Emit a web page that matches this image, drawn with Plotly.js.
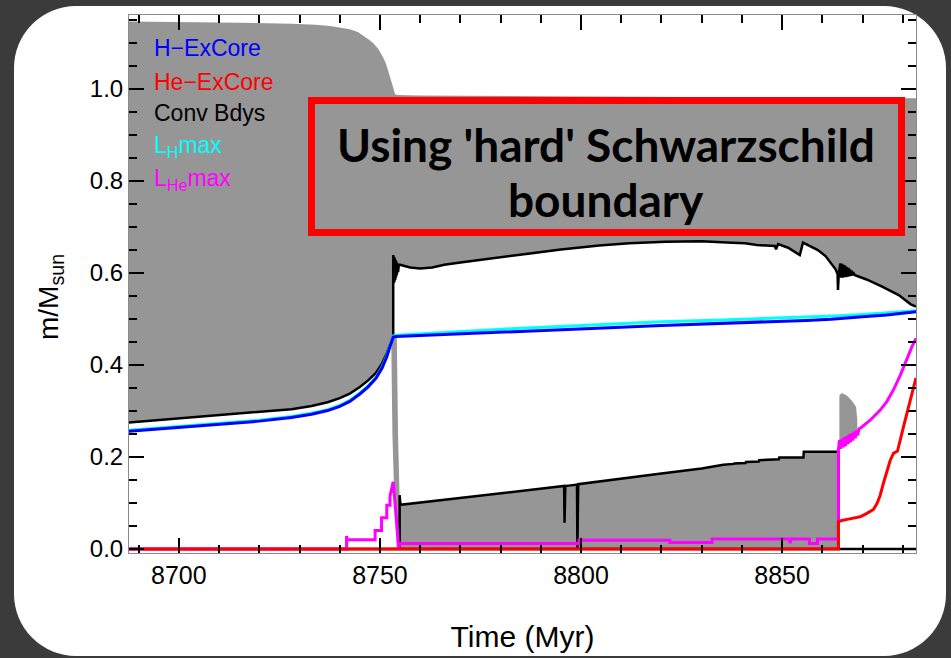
<!DOCTYPE html>
<html>
<head>
<meta charset="utf-8">
<script src="https://cdn.plot.ly/plotly-3.0.1.min.js"></script>
<style>
  html, body { margin: 0; padding: 0; width: 951px; height: 658px; overflow: hidden; background: #3b3b3b; }
  #card { position: absolute; left: 14px; top: 6px; width: 932px; height: 650px; background: #ffffff; border-radius: 62px; }
  #chart { position: absolute; left: 0; top: 0; width: 951px; height: 658px; }
</style>
</head>
<body>
<div id="card"></div>
<div id="chart"></div>
<script>
// Kippenhahn-style diagram: mass coordinate (m/Msun) versus age (Myr)

// Stellar surface (top of the grey envelope convection zone)
const surfaceT = [8687.6, 8700, 8715, 8728, 8734, 8737.6, 8740, 8742.5, 8744.5, 8745.8, 8747.2, 8748.3, 8749.6, 8750.7, 8751.5, 8752.0, 8752.6, 8753.0, 8753.4, 8753.7, 8754.2, 8760, 8800, 8850, 8883.3];
const surfaceM = [1.147, 1.146, 1.144, 1.142, 1.140, 1.137, 1.134, 1.130, 1.124, 1.117, 1.108, 1.100, 1.087, 1.070, 1.055, 1.041, 1.025, 1.013, 1.000, 0.990, 0.987, 0.986, 0.984, 0.982, 0.980];

// Inner boundary of the envelope convection zone
const envBaseT = [8687.6, 8700, 8710, 8720, 8728, 8733, 8737, 8740, 8742.5, 8745, 8747, 8749, 8750.5, 8751.7, 8752.5, 8753.0, 8753.3,
  8753.3, 8753.4, 8753.5, 8753.6, 8753.7, 8753.8, 8753.9, 8754.0, 8754.1, 8754.2, 8754.35, 8754.5, 8754.7, 8755.0,
  8757.5, 8760, 8763, 8766, 8770, 8776, 8782, 8788, 8795, 8804.5, 8812, 8821, 8830, 8837.5,
  8840.8, 8843.7, 8848.2, 8848.5, 8849.0, 8851.5, 8854.4, 8855.2, 8856.5, 8858.9, 8860.8, 8862.2, 8863.3, 8863.8, 8863.9, 8864.1,
  8864.3, 8864.5, 8864.7, 8864.9, 8865.1, 8865.3, 8865.5, 8865.7, 8865.9, 8866.1, 8866.3, 8866.5, 8866.7, 8866.9, 8867.1, 8867.3, 8867.5, 8867.7, 8868.0,
  8871, 8875, 8879, 8882, 8883.3];
const envBaseM = [0.275, 0.284, 0.290, 0.297, 0.304, 0.311, 0.319, 0.328, 0.338, 0.352, 0.366, 0.383, 0.403, 0.425, 0.445, 0.458, 0.463,
  0.639, 0.578, 0.636, 0.580, 0.632, 0.585, 0.628, 0.590, 0.625, 0.596, 0.621, 0.602, 0.618, 0.618,
  0.612, 0.610, 0.612, 0.618, 0.623, 0.630, 0.636, 0.643, 0.651, 0.660, 0.665, 0.668, 0.669, 0.666,
  0.6645, 0.661, 0.6587, 0.6514, 0.663, 0.655, 0.639, 0.666, 0.661, 0.650, 0.637, 0.621, 0.608, 0.598, 0.563, 0.600,
  0.614, 0.621, 0.590, 0.620, 0.590, 0.618, 0.591, 0.616, 0.591, 0.613, 0.592, 0.611, 0.593, 0.608, 0.594, 0.605, 0.595, 0.602, 0.5957,
  0.586, 0.570, 0.552, 0.532, 0.527];

// Convective core (upper boundary)
const coreTopT = [8754.9, 8754.9, 8755.1, 8765, 8775, 8785, 8795.8, 8795.9, 8796.1, 8799.0, 8799.1, 8799.3, 8802.2, 8810, 8820, 8830, 8835.4, 8838, 8838.1, 8840.9, 8841.0, 8844.2, 8844.3, 8849.2, 8849.3, 8855.3, 8855.4, 8864.0, 8864.0];
const coreTopM = [0, 0.117, 0.096, 0.106, 0.116, 0.126, 0.137, 0.057, 0.137, 0.140, 0.0, 0.141, 0.144, 0.153, 0.164, 0.175, 0.183, 0.185, 0.186, 0.187, 0.189, 0.190, 0.193, 0.195, 0.199, 0.199, 0.2116, 0.2116, 0];

// Short-lived convective zone at the helium flash
const flashT = [8752.8, 8753.1, 8753.6, 8754.2, 8755.2, 8754.9, 8754.5, 8754.2];
const flashM = [0.46, 0.25, 0.10, 0.0, 0.0, 0.10, 0.25, 0.46];

// Convective shell above the helium-burning region
const shellT = [8864.25, 8864.25, 8864.85, 8866.1, 8867.3, 8868.4, 8868.7, 8868.7];
const shellM = [0.237, 0.334, 0.339, 0.334, 0.323, 0.309, 0.280, 0.254];

// Convective boundary at the centre
const zeroBdyT = [8687.6, 8883.3];
const zeroBdyM = [0, 0];

// Hydrogen-exhausted core
const hCoreT = [8687.6, 8700, 8710, 8720, 8728, 8733, 8737, 8740, 8742.5, 8745, 8747, 8749, 8750.5, 8751.7, 8752.5, 8753.0, 8753.3, 8754, 8760, 8770, 8785, 8800, 8807, 8820, 8835, 8849.5, 8856, 8862.2, 8864, 8870, 8876, 8883.3];
const hCoreM = [0.256, 0.264, 0.270, 0.278, 0.286, 0.293, 0.301, 0.310, 0.321, 0.337, 0.352, 0.371, 0.393, 0.418, 0.440, 0.455, 0.461, 0.462, 0.464, 0.468, 0.473, 0.478, 0.481, 0.486, 0.490, 0.494, 0.497, 0.4995, 0.501, 0.505, 0.509, 0.516];

// Location of maximum hydrogen-burning luminosity
const lhMaxT = [8687.6, 8700, 8710, 8720, 8728, 8733, 8737, 8740, 8742.5, 8745, 8747, 8749, 8750.5, 8751.7, 8752.5, 8753.0, 8753.3, 8754, 8760, 8770, 8785, 8800, 8807, 8820, 8835, 8849.5, 8856, 8862.2, 8864, 8870, 8876, 8883.3];
const lhMaxM = [0.258, 0.266, 0.272, 0.280, 0.288, 0.295, 0.303, 0.312, 0.323, 0.339, 0.354, 0.373, 0.395, 0.420, 0.442, 0.457, 0.463, 0.465, 0.468, 0.473, 0.480, 0.486, 0.489, 0.494, 0.498, 0.502, 0.504, 0.505, 0.507, 0.510, 0.513, 0.518];

// Location of maximum helium-burning luminosity
const lheMaxT = [8687.6, 8741.7, 8741.7, 8741.9, 8748.8, 8748.8, 8750.4, 8750.4, 8751.7, 8751.7, 8752.5, 8752.5, 8753.3, 8754.7, 8754.9, 8799.5, 8799.5, 8822.1, 8822.1, 8832.6, 8832.6, 8851.8, 8852.0, 8852.3, 8856.8, 8856.8, 8858.8, 8858.8, 8864.0,
  8864.0, 8864.3, 8864.6, 8864.9, 8865.2, 8865.5, 8865.8, 8866.1, 8866.4, 8866.7, 8867.0, 8867.3, 8867.6, 8867.9, 8868.2, 8868.5, 8868.8, 8869.1, 8869.4,
  8871.9, 8874.4, 8876.0, 8877.7, 8879.4, 8880.6, 8882.3, 8883.3];
const lheMaxM = [0, 0, 0.028, 0.020, 0.020, 0.040, 0.040, 0.068, 0.068, 0.095, 0.095, 0.115, 0.146, 0.0, 0.012, 0.012, 0.019, 0.019, 0.014, 0.014, 0.022, 0.022, 0.013, 0.022, 0.022, 0.012, 0.012, 0.022, 0.022,
  0.215, 0.237, 0.218, 0.240, 0.221, 0.243, 0.224, 0.246, 0.228, 0.249, 0.232, 0.252, 0.236, 0.255, 0.241, 0.258, 0.247, 0.261, 0.262,
  0.280, 0.302, 0.320, 0.346, 0.378, 0.404, 0.440, 0.458];

// Helium-exhausted core
const heCoreT = [8687.6, 8864.0, 8864.0, 8864.8, 8866.5, 8869.4, 8871.1, 8872.7, 8873.6, 8874.4, 8875.2, 8876.9, 8877.7, 8878.7, 8880.2, 8881.8, 8883.1, 8883.3];
const heCoreM = [0, 0, 0.0594, 0.062, 0.065, 0.070, 0.0775, 0.086, 0.099, 0.117, 0.143, 0.193, 0.208, 0.213, 0.266, 0.324, 0.367, 0.372];

// Legend labels and axis settings
const legendLabels = ['H\u2212ExCore', 'He\u2212ExCore', 'Conv Bdys', 'L<sub>H</sub>max', 'L<sub>He</sub>max'];
const legendColors = ['#0000ff', '#ff0000', '#000000', '#00ffff', '#ff00ff'];
const boxLines = ["Using 'hard' Schwarzschild", 'boundary'];
const xRange = [8687.6, 8883.3];
const yRange = [-0.0087, 1.161];

const GREY = '#969696';
const FONT = 'Liberation Sans, Arial, sans-serif';

function fillTrace(x, y) {
  return { x: x, y: y, type: 'scatter', mode: 'lines', fill: 'toself', fillcolor: GREY,
           line: { width: 0, color: GREY }, hoverinfo: 'skip', showlegend: false };
}
function lineTrace(x, y, color, width) {
  return { x: x, y: y, type: 'scatter', mode: 'lines', line: { color: color, width: width },
           showlegend: false };
}

const envelopeX = surfaceT.concat(envBaseT.slice().reverse());
const envelopeY = surfaceM.concat(envBaseM.slice().reverse());

const traces = [
  fillTrace(envelopeX, envelopeY),
  fillTrace(coreTopT, coreTopM),
  fillTrace(flashT, flashM),
  fillTrace(shellT, shellM),
  lineTrace(envBaseT, envBaseM, '#000000', 2.5),
  lineTrace(coreTopT, coreTopM, '#000000', 2.5),
  lineTrace(zeroBdyT, zeroBdyM, '#000000', 2.5),
  lineTrace(lhMaxT, lhMaxM, '#00ffff', 3),
  lineTrace(hCoreT, hCoreM, '#0000ff', 3),
  lineTrace(lheMaxT, lheMaxM, '#ff00ff', 3),
  lineTrace(heCoreT, heCoreM, '#ff0000', 3)
];

const legendY = [0.938, 0.876, 0.8173, 0.7552, 0.6946];
const annotations = legendLabels.map((txt, i) => ({
  text: txt, xref: 'paper', yref: 'paper', x: 0.0288, y: legendY[i],
  xanchor: 'left', yanchor: 'middle', showarrow: false,
  font: { family: FONT, size: 23, color: legendColors[i] }
}));
const boxLineY = [0.7584, 0.6562];
boxLines.forEach((txt, i) => annotations.push({
  text: txt, xref: 'paper', yref: 'paper',
  x: 0.6067, y: boxLineY[i], xanchor: 'center', yanchor: 'middle', showarrow: false,
  font: { family: 'Lato, sans-serif', size: 46, color: '#000000', weight: 'bold' }
}));
// vertical axis title
annotations.push({
  text: 'm/M<sub>sun</sub>', xref: 'paper', yref: 'paper', x: -0.1004, y: 0.4758,
  xanchor: 'center', yanchor: 'middle', textangle: -90, showarrow: false,
  font: { family: FONT, size: 28, color: '#000000' }
});

const axisCommon = {
  showline: true, linecolor: '#8a8a8a', linewidth: 1, mirror: 'allticks',
  ticks: 'inside', ticklen: 15, tickwidth: 2, tickcolor: '#000000',
  showgrid: false, zeroline: false
};

const layout = {
  width: 951, height: 658,
  margin: { l: 129, r: 35, t: 15, b: 105 },
  paper_bgcolor: 'rgba(0,0,0,0)', plot_bgcolor: '#ffffff',
  showlegend: false,
  xaxis: Object.assign({}, axisCommon, {
    range: xRange, tick0: 8700, dtick: 50,
    minor: { dtick: 10, ticks: 'inside', ticklen: 8, tickwidth: 2, tickcolor: '#000000' },
    tickfont: { family: FONT, size: 25, color: '#000000' },
    title: { text: 'Time (Myr)', font: { family: FONT, size: 30, color: '#000000' }, standoff: 37 }
  }),
  yaxis: Object.assign({}, axisCommon, {
    range: yRange, tick0: 0, dtick: 0.2, tickformat: '.1f',
    minor: { dtick: 0.05, ticks: 'inside', ticklen: 8, tickwidth: 2, tickcolor: '#000000' },
    tickfont: { family: FONT, size: 24, color: '#000000' }
  }),
  shapes: [{
    type: 'rect', xref: 'paper', yref: 'paper', x0: 0.2319, x1: 0.9816, y0: 0.5957, y1: 0.8411,
    line: { color: '#ff0000', width: 7 }, fillcolor: 'rgba(0,0,0,0)', layer: 'above'
  }],
  annotations: annotations
};

Plotly.newPlot('chart', traces, layout, { displayModeBar: false, staticPlot: true });
</script>
</body>
</html>
